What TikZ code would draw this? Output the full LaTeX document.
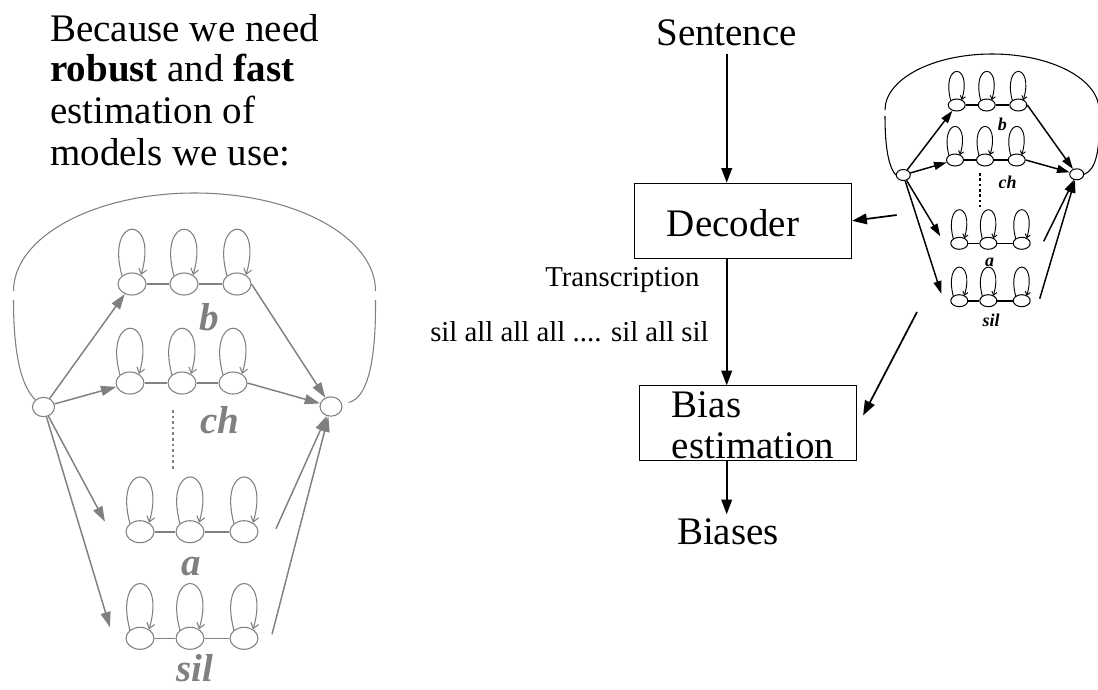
\documentclass[tikz,border=0pt]{standalone}
\usepackage{fontspec}
\setmainfont{Liberation Serif}
\usetikzlibrary{arrows.meta,shapes.geometric,calc}
\definecolor{hmmgray}{RGB}{128,128,128}
\begin{document}
\begin{tikzpicture}[x=0.75pt,y=-0.75pt,
  bigtxt/.style={font=\fontsize{29.25}{31}\selectfont,inner sep=0pt},
  midtxt/.style={font=\fontsize{21.6}{24}\selectfont,inner sep=0pt},
  glabel/.style={font=\fontsize{29.25}{31}\selectfont\bfseries\itshape,text=hmmgray,inner sep=0pt},
  klabel/.style={font=\fontsize{13.5}{15}\selectfont\bfseries\itshape,inner sep=0pt},
  gst/.style={ellipse,draw=hmmgray,line width=0.8pt,minimum width=21pt,minimum height=16.5pt,inner sep=0pt},
  gend/.style={ellipse,draw=hmmgray,line width=0.8pt,minimum width=16.5pt,minimum height=14.5pt,inner sep=0pt},
  glink/.style={draw=hmmgray,line width=1.2pt},
  garr/.style={draw=hmmgray,line width=1.1pt,-{Triangle[length=11.5pt,width=7.5pt,fill=hmmgray]}},
  gloop/.style={draw=hmmgray,line width=0.8pt,-{Straight Barb[length=4pt,width=6pt]}},
  garc/.style={draw=hmmgray,line width=0.8pt},
  kst/.style={ellipse,draw,line width=0.75pt,minimum width=12.75pt,minimum height=9pt,inner sep=0pt},
  kend/.style={ellipse,draw,line width=0.75pt,minimum width=10.5pt,minimum height=8.25pt,inner sep=0pt},
  klink/.style={draw,line width=1.2pt},
  karr/.style={draw,line width=1.1pt,-{Triangle[length=9.5pt,width=6pt,fill=black]}},
  kloop/.style={draw,line width=0.7pt,-{Straight Barb[length=2.5pt,width=4pt]}},
  karc/.style={draw,line width=0.8pt},
  box/.style={draw,line width=0.8pt,rectangle,inner sep=0pt,minimum width=163pt,minimum height=56.3pt},
  marr/.style={draw,line width=1.3pt,-{Triangle[length=11pt,width=8pt,fill=black]}}
]
\useasboundingbox (0,0) rectangle (1098,689);

% ---------------- left text ----------------
\node[bigtxt,anchor=base west] (t1) at (50,41.7) {Because we need};
\node[bigtxt,anchor=base west] (t2) at (50,81.7) {\textbf{robust} and \textbf{fast}};
\node[bigtxt,anchor=base west] (t3) at (50,123.3) {estimation of};
\node[bigtxt,anchor=base west] (t4) at (50,165) {models we use:};

% ---------------- big gray HMM ----------------
\node[gend] (S) at (43.5,407) {};
\node[gend] (E) at (331,406.5) {};
\foreach \r/\xa/\xb/\xc/\yy in {rb/132/184/237/284, rc/130/182/233/383, ra/140/190/244/531.7, rs/140/190/244/638.3} {
  \node[gst] (\r1) at (\xa,\yy) {};
  \node[gst] (\r2) at (\xb,\yy) {};
  \node[gst] (\r3) at (\xc,\yy) {};
  \draw[glink] (\r1) -- (\r2) -- (\r3);
  \foreach \i in {1,2,3}
    \draw[gloop] ($(\r\i)+(-10,-8)$) .. controls ($(\r\i)+(-27,-70)$) and ($(\r\i)+(27,-70)$) .. ($(\r\i)+(9,-9)$);
}
\node[glabel,anchor=base] (lb) at (209,330.5) {b};
\node[glabel,anchor=base] (lc) at (220,433) {ch};
\node[glabel,anchor=base] (la) at (191,575) {a};
\node[glabel,anchor=base] (ls) at (195,681) {sil};
\draw[hmmgray,line width=1.1pt,dash pattern=on 2pt off 2.2pt] (173,410) -- (173,471);

\draw[garr] (S) -- (rb1);
\draw[garr] (S) -- (rc1);
\draw[garr] (S) -- ($(ra1)+(-35,-10)$);
\draw[garr] (S) -- ($(rs1)+(-30,-11)$);
\draw[garr] (rb3.east) -- (E);
\draw[garr] (rc3.east) -- (E);
\draw[garr] ($(ra3)+(32,-3)$) -- (E);
\draw[garr] ($(rs3)+(28,-4)$) -- (E);

% outer loop
\draw[garc] (13.5,300) .. controls (13.5,350) and (20,385) .. (S.north west);
\draw[garc] (13.5,291) arc[start angle=180,end angle=360,x radius=181,y radius=98];
\draw[garc] (375.5,300) .. controls (376,360) and (368,398) .. ($(E.east)+(6,-4)$);

% ---------------- right flow ----------------
\node[bigtxt,anchor=base] (sent) at (726.7,45) {Sentence};
\node[box] (dec) at (743,220.8) {};
\node[bigtxt,anchor=base west] (dect) at (666.7,236.7) {Decoder};
\node[box] (bias) at (747.9,423.4) {};
\node[bigtxt,anchor=base west] (biast1) at (671.7,417.3) {Bias};
\node[bigtxt,anchor=base west] (biast2) at (671.7,458.3) {estimation};
\node[bigtxt,anchor=base] (biases) at (728,544.3) {Biases};
\node[midtxt,anchor=base west] (trans) at (545,286.7) {Transcription};
\node[midtxt,anchor=base west] (silall) at (430,341.7) {sil all all all .... sil all sil};

\draw[marr] ($(sent.south)+(0,8)$) -- (sent.south |- dec.north);
\draw[marr] (sent.south |- dec.south) -- (sent.south |- bias.north);
\draw[marr] (sent.south |- bias.south) -- ($(sent.south |- biases.north)+(0,-4)$);

\coordinate (c1) at (896.7,215);
\coordinate (c2) at (917,312);
\draw[marr] (c1) -- (dec.east);
\draw[marr] (c2) -- ($(bias.east)+(6,-8)$);

% ---------------- small black HMM ----------------
\node[kend] (KS) at (903.3,175) {};
\node[kend] (KE) at (1076.7,174.3) {};
\foreach \r/\xa/\xb/\xc/\yy in {kb/956.7/986.7/1018.3/105, kc/955/985/1016.7/160, ka/959.3/988.3/1021.7/243.3, ks/959.3/988.3/1021.7/300.7} {
  \node[kst] (\r1) at (\xa,\yy) {};
  \node[kst] (\r2) at (\xb,\yy) {};
  \node[kst] (\r3) at (\xc,\yy) {};
  \draw[klink] (\r1) -- (\r2) -- (\r3);
  \foreach \i in {1,2,3}
    \draw[kloop] ($(\r\i)+(-6,-4.5)$) .. controls ($(\r\i)+(-16,-43)$) and ($(\r\i)+(16,-43)$) .. ($(\r\i)+(5,-5)$);
}
\node[klabel,anchor=base] (klb) at (1002.3,130) {b};
\node[klabel,anchor=base] (klc) at (1007.5,188.3) {ch};
\node[klabel,anchor=base] (kla) at (989.5,266) {a};
\node[klabel,anchor=base] (kls) at (991,326.7) {sil};
\draw[line width=1.1pt,dash pattern=on 2pt off 2pt] (980,173) -- (980,207);

\draw[karr] (KS) -- (kb1);
\draw[karr] (KS) -- (kc1);
\draw[karr] (KS) -- ($(ka1)+(-19,-7)$);
\draw[karr] (KS) -- ($(ks1)+(-18,-7)$);
\draw[karr] (kb3.east) -- (KE);
\draw[karr] (kc3.east) -- (KE);
\draw[karr] ($(ka3)+(22,-2)$) -- (KE);
\draw[karr] ($(ks3)+(18,-2)$) -- (KE);

\draw[karc] (885,116) .. controls (885,140) and (887,165) .. (KS.west);
\draw[karc] (885,110) arc[start angle=180,end angle=360,x radius=107,y radius=56];
\draw[karc] (1099,118) .. controls (1100,150) and (1096,170) .. (KE.east);
\end{tikzpicture}
\end{document}
